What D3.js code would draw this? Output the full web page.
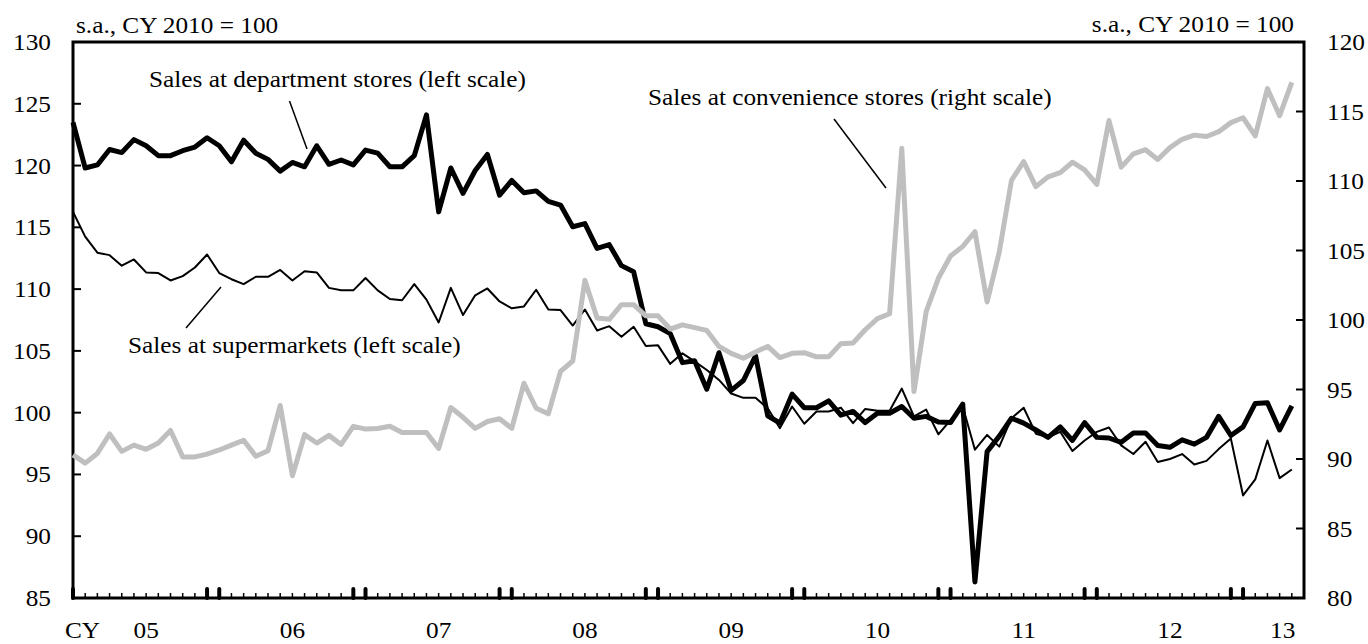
<!DOCTYPE html>
<html>
<head>
<meta charset="utf-8">
<script src="https://cdn.jsdelivr.net/npm/d3@7"></script>
<style>
  body { margin: 0; background: #fff; }
  svg { display: block; font-family: "Liberation Serif", "Times New Roman", serif; }
</style>
</head>
<body>
<script>
'use strict';

(function() {

  // monthly, CY2005/1 .. CY2013/5
  const yearLabels = ["05", "06", "07", "08", "09", "10", "11", "12", "13"];

  const deptStores = [
    123.5, 119.8, 120.05, 121.3, 121.05, 122.1, 121.6, 120.8, 120.8, 121.2, 121.5, 122.25,
    121.6, 120.3, 122.05, 121.0, 120.5, 119.55, 120.25, 119.9, 121.6, 120.1, 120.45, 120.05,
    121.25, 121.0, 119.9, 119.9, 120.8, 124.1, 116.25, 119.8, 117.75, 119.6, 120.9, 117.6,
    118.8, 117.8, 117.95, 117.1, 116.8, 115.05, 115.3, 113.3, 113.6, 111.9, 111.4, 107.2,
    106.95, 106.4, 104.05, 104.2, 101.9, 104.85, 101.8, 102.6, 104.6, 99.75, 99.15, 101.5,
    100.4, 100.4, 100.95, 99.8, 100.1, 99.2, 99.95, 99.95, 100.5, 99.55, 99.7, 99.25,
    99.2, 100.7, 86.3, 96.85, 98.1, 99.55, 99.15, 98.6, 98.0, 98.85, 97.75, 99.2,
    98.0, 97.95, 97.6, 98.35, 98.35, 97.35, 97.2, 97.8, 97.45, 98.0, 99.7, 98.15,
    98.85, 100.75, 100.8, 98.6, 100.55
  ];

  const supermarkets = [
    116.25, 114.25, 112.95, 112.75, 111.9, 112.4, 111.35, 111.3, 110.7, 111.05, 111.75, 112.8,
    111.3, 110.8, 110.4, 111.0, 111.0, 111.55, 110.7, 111.45, 111.35, 110.1, 109.9, 109.9,
    110.9, 109.9, 109.2, 109.1, 110.4, 109.15, 107.3, 110.1, 107.9, 109.5, 110.05, 109.0,
    108.45, 108.6, 109.95, 108.35, 108.3, 107.05, 108.35, 106.65, 107.0, 106.15, 106.95, 105.4,
    105.45, 103.95, 104.8, 104.15, 103.45, 102.65, 101.55, 101.2, 101.2, 100.35, 98.75, 100.5,
    99.1, 100.1, 100.1, 100.4, 99.15, 100.3, 100.15, 100.15, 101.95, 99.7, 100.25, 98.25,
    99.4, 100.5, 97.0, 98.2, 97.25, 99.55, 100.4, 98.3, 98.0, 98.45, 96.9, 97.75,
    98.45, 98.8, 97.35, 96.65, 97.65, 96.0, 96.25, 96.65, 95.8, 96.1, 97.05, 97.9,
    93.3, 94.6, 97.75, 94.7, 95.4
  ];

  const convStores = [
    90.3, 89.7, 90.4, 91.8, 90.55, 91.0, 90.7, 91.15, 92.05, 90.15, 90.15, 90.35,
    90.65, 91.0, 91.35, 90.2, 90.6, 93.85, 88.8, 91.75, 91.15, 91.7, 91.05, 92.35,
    92.15, 92.2, 92.35, 91.9, 91.9, 91.9, 90.75, 93.7, 93.0, 92.2, 92.7, 92.9,
    92.2, 95.45, 93.65, 93.25, 96.3, 97.05, 102.85, 100.15, 100.05, 101.1, 101.1, 100.3,
    100.3, 99.35, 99.65, 99.45, 99.25, 98.1, 97.6, 97.25, 97.7, 98.1, 97.3, 97.6,
    97.65, 97.35, 97.35, 98.3, 98.35, 99.3, 100.1, 100.45, 112.35, 94.85, 100.6, 103.0,
    104.6, 105.3, 106.35, 101.3, 104.9, 110.05, 111.4, 109.6, 110.3, 110.6, 111.35, 110.8,
    109.75, 114.35, 111.0, 111.95, 112.25, 111.55, 112.4, 113.0, 113.3, 113.2, 113.55, 114.2,
    114.55, 113.25, 116.65, 114.7, 117.1
  ];

  const leftTicks = [85, 90, 95, 100, 105, 110, 115, 120, 125, 130];
  const rightTicks = [80, 85, 90, 95, 100, 105, 110, 115, 120];

  let width = 1368;
  let height = 644;
  let left = 73, right = 1304, top = 42, bottom = 598;
  let fontSize = 23;
  let stretch = 1.1;
  let svgContainer = "";

  window.onload = function() {
    svgContainer = d3.select('body')
      .append('svg')
      .attr('width', width)
      .attr('height', height);

    let mapFunctions = drawAxes();
    plotData(mapFunctions);
    makeLabel();
  }

  // text in this chart is a bit wider than normal Times
  function addText(x, y, str, anchor) {
    return svgContainer.append('text')
      .attr('transform', 'translate(' + x + ',' + y + ') scale(' + stretch + ',1)')
      .attr('text-anchor', anchor || 'start')
      .style('font-family', '"Liberation Serif", "Times New Roman", serif')
      .style('font-size', fontSize + 'px')
      .attr('fill', '#000')
      .text(str);
  }

  function drawAxes() {
    let n = deptStores.length;
    let xScale = d3.scaleLinear()
      .domain([0, n])
      .range([left, right]);
    let yLeft = d3.scaleLinear()
      .domain([85, 130])
      .range([bottom, top]);
    let yRight = d3.scaleLinear()
      .domain([80, 120])
      .range([bottom, top]);

    // left ticks (inside)
    svgContainer.append('g')
      .selectAll('line')
      .data(leftTicks)
      .enter()
      .append('line')
      .attr('x1', left).attr('x2', left + 8)
      .attr('y1', d => yLeft(d)).attr('y2', d => yLeft(d))
      .attr('stroke', '#000').attr('stroke-width', 2);

    leftTicks.forEach(function(t) {
      addText(51, yLeft(t) + 8, t, 'end');
    });

    // right ticks (inside)
    svgContainer.append('g')
      .selectAll('line')
      .data(rightTicks)
      .enter()
      .append('line')
      .attr('x1', right - 8).attr('x2', right)
      .attr('y1', d => yRight(d)).attr('y2', d => yRight(d))
      .attr('stroke', '#000').attr('stroke-width', 2);

    rightTicks.forEach(function(t) {
      addText(1327, yRight(t) + 8, t, 'start');
    });

    // month ticks, Dec and Jan are drawn heavier
    let months = d3.range(0, n);
    let heavy = d => (d % 12 == 0 || d % 12 == 11);
    svgContainer.append('g')
      .selectAll('line')
      .data(months)
      .enter()
      .append('line')
      .attr('x1', d => xScale(d)).attr('x2', d => xScale(d))
      .attr('y1', bottom)
      .attr('y2', d => heavy(d) ? bottom - 9 : bottom - 5)
      .attr('stroke', '#000')
      .attr('stroke-linecap', d => heavy(d) ? 'round' : 'butt')
      .attr('stroke-width', d => heavy(d) ? 4 : 1.5);

    // frame
    svgContainer.append('rect')
      .attr('x', left).attr('y', top)
      .attr('width', right - left).attr('height', bottom - top)
      .attr('fill', 'none')
      .attr('stroke', '#000')
      .attr('stroke-width', 3);

    // year labels
    addText(65, 638, 'CY', 'start');
    yearLabels.forEach(function(lab, k) {
      let start = k * 12;
      let mid = Math.min(start + 6, (start + n) / 2 + 0.75);
      addText(xScale(mid), 638, lab, 'middle');
    });

    return {
      xScale: xScale,
      yLeft: yLeft,
      yRight: yRight
    };
  }

  function plotData(map) {
    let xMap = map.xScale;

    let lineLeft = d3.line()
      .x((d, i) => xMap(i))
      .y(d => map.yLeft(d));
    let lineRight = d3.line()
      .x((d, i) => xMap(i))
      .y(d => map.yRight(d));

    svgContainer.append('path')
      .datum(supermarkets)
      .attr('d', lineLeft)
      .attr('fill', 'none')
      .attr('stroke', '#000')
      .attr('stroke-width', 2)
      .attr('stroke-linejoin', 'round');

    svgContainer.append('path')
      .datum(deptStores)
      .attr('d', lineLeft)
      .attr('fill', 'none')
      .attr('stroke', '#000')
      .attr('stroke-width', 5)
      .attr('stroke-linejoin', 'round');

    svgContainer.append('path')
      .datum(convStores)
      .attr('d', lineRight)
      .attr('fill', 'none')
      .attr('stroke', '#bfbfbf')
      .attr('stroke-width', 5)
      .attr('stroke-linejoin', 'round');
  }

  function makeLabel() {
    addText(76, 33, 's.a., CY 2010 = 100', 'start');
    addText(1294, 32, 's.a., CY 2010 = 100', 'end');

    addText(149, 87, 'Sales at department stores (left scale)', 'start');
    addText(128, 353, 'Sales at supermarkets (left scale)', 'start');
    addText(648, 105, 'Sales at convenience stores (right scale)', 'start');

    let leaders = [
      [289.5, 101, 307, 149],
      [186, 328, 221, 287],
      [834, 119, 886, 188]
    ];
    svgContainer.append('g')
      .selectAll('line')
      .data(leaders)
      .enter()
      .append('line')
      .attr('x1', d => d[0]).attr('y1', d => d[1])
      .attr('x2', d => d[2]).attr('y2', d => d[3])
      .attr('stroke', '#000')
      .attr('stroke-width', 1.5);
  }

})();
</script>
</body>
</html>
